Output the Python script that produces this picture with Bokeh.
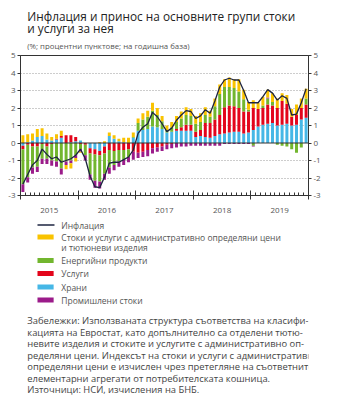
import numpy as np
from bokeh.plotting import figure
from bokeh.models import Range1d, FixedTicker, LinearAxis, Span, Grid
from bokeh.layouts import column
from bokeh.embed import file_html
from bokeh.resources import INLINE
from bokeh.core.properties import value

FONT = "Open Sans"

# ---------------- data (monthly, Jan 2015 - Dec 2019) ----------------
years = ["2015", "2016", "2017", "2018", "2019"]

food = [-0.15, 0.05, 0.15, 0.35, 0.4, 0.2, 0.15, 0.2, 0.3, 0.0, 0.05, 0.1,
        0.15, 0.0, -0.3, -0.35, -0.45, -0.2, 0.4, 0.25, 0.1, 0.05, 0.0, 0.3,
        0.7, 0.75, 0.8, 0.95, 0.9, 0.8, 0.6, 0.65, 0.7, 0.7, 0.7, 0.7,
        0.35, 0.4, 0.35, 0.3, 0.4, 0.5, 0.55, 0.6, 0.65, 0.65, 0.55, 0.6,
        0.75, 0.95, 1.05, 1.1, 1.15, 1.0, 1.05, 1.1, 1.0, 1.05, 1.35, 1.45]

services = [-0.2, -0.1, -0.2, -0.2, -0.05, -0.2, -0.05, 0.05, 0.1, 0.45, 0.4, 0.25,
            -0.05, -0.1, -0.3, -0.3, -0.25, -0.4, -0.4, -0.45, -0.4, -0.4, -0.35, -0.5,
            -0.55, -0.5, -0.4, -0.3, -0.25, -0.2, -0.1, -0.05, 0.1, 0.2, 0.35, 0.35,
            0.3, 0.35, 0.8, 0.85, 0.95, 1.1, 1.5, 1.55, 1.45, 1.35, 1.25, 1.2,
            1.25, 1.0, 0.95, 1.1, 1.0, 1.0, 1.35, 1.15, 0.5, 0.55, 0.65, 0.75]

energy = [-2.0, -1.85, -1.2, -1.15, -0.85, -0.7, -0.95, -1.05, -1.45, -1.05, -1.0, -0.7,
          -0.3, -0.6, -1.2, -1.5, -1.5, -1.15, -1.0, -0.8, -0.65, -0.55, -0.45, 0.05,
          0.45, 0.6, 0.7, 0.9, 0.7, 0.45, 0.15, 0.25, 0.4, 0.5, 0.55, 0.5,
          0.45, 0.45, 0.45, 0.35, 0.75, 1.2, 1.15, 1.05, 1.05, 0.95, 0.7, 0.1,
          -0.15, 0.0, 0.15, 0.35, 0.2, -0.1, -0.15, -0.2, -0.35, -0.55, -0.25, 0.35]

industrial = [-0.45, -0.3, -0.35, -0.3, -0.3, -0.3, -0.3, -0.3, -0.35, -0.2, -0.15, -0.15,
              -0.15, -0.3, -0.3, -0.4, -0.4, -0.35, -0.35, -0.3, -0.3, -0.3, -0.3, -0.45,
              -0.3, -0.3, -0.35, -0.3, -0.25, -0.25, -0.25, -0.25, -0.25, -0.2, -0.2, -0.15,
              -0.15, -0.15, -0.15, -0.15, -0.15, -0.15, -0.05, -0.05, -0.05, -0.05, -0.05, -0.05,
              -0.05, 0.0, 0.0, 0.05, 0.0, 0.0, 0.0, 0.0, 0.0, 0.0, 0.0, 0.0]

administered = [0.45, 0.45, 0.4, 0.45, 0.45, 0.35, 0.2, 0.25, 0.3, -0.25, -0.3, -0.2,
                -0.05, 0.0, 0.0, 0.0, 0.05, 0.1, 0.2, 0.2, 0.15, 0.25, 0.3, 0.25,
                0.25, 0.35, 0.35, 0.45, 0.4, 0.3, 0.25, 0.3, 0.35, 0.4, 0.45, 0.4,
                0.45, 0.5, 0.45, 0.35, 0.45, 0.55, 0.45, 0.55, 0.5, 0.7, 0.55, 0.45,
                0.45, 0.35, 0.5, 0.45, 0.5, 0.55, 0.45, 0.5, 0.45, 0.6, 0.55, 0.55]

inflation = [-2.35, -1.8, -1.25, -1.0, -0.35, -0.65, -0.9, -0.8, -1.1, -1.0, -0.9, -0.7,
             -0.35, -0.9, -1.9, -2.5, -2.55, -1.95, -1.15, -1.1, -1.1, -0.95, -0.8, -0.4,
             0.55, 0.9, 1.1, 1.75, 1.5, 1.1, 0.65, 0.85, 1.3, 1.6, 1.85, 1.8,
             1.4, 1.55, 1.9, 1.7, 2.4, 3.2, 3.6, 3.7, 3.6, 3.6, 3.0, 2.3,
             2.3, 2.3, 2.65, 3.05, 2.85, 2.45, 2.7, 2.55, 1.6, 1.65, 2.3, 3.1]

legend_labels = ["Инфлация",
                 "Стоки и услуги с административно определяни цени",
                 "и тютюневи изделия",
                 "Енергийни продукти",
                 "Услуги",
                 "Храни",
                 "Промишлени  стоки"]

title_lines = ["Инфлация и принос на основните групи стоки",
               "и услуги за нея"]
subtitle = "(%; процентни пунктове; на годишна база)"

note_lines = ["Забележки: Използваната структура съответства на класифи-",
              "кацията на Евростат, като допълнително са отделени тютю-",
              "невите изделия и стоките и услугите с административно оп-",
              "ределяни цени. Индексът на стоки и услуги с административно",
              "определяни цени е изчислен чрез претегляне на съответните",
              "елементарни агрегати от потребителската кошница.",
              "Източници: НСИ, изчисления на БНБ."]

C_Y = "#f9c300"
C_G = "#72b62e"
C_R = "#e3051b"
C_B = "#46b7e6"
C_P = "#9b1b8a"
C_L = "#1d2440"
AX = "#333333"
TXT = "#555555"

# ---------------- chart ----------------
n = len(inflation)
xs = np.arange(n) + 0.5

p = figure(width=339, height=165, x_range=Range1d(0, n), y_range=Range1d(-3, 5),
           x_axis_type=None, y_axis_type=None, output_backend="svg",
           toolbar_location=None, min_border_left=20, min_border_right=31,
           min_border_top=5, min_border_bottom=18)
p.outline_line_color = AX
p.outline_line_width = 1
p.background_fill_color = "white"
p.border_fill_color = "white"

p.add_layout(Grid(dimension=1, ticker=FixedTicker(ticks=[-2, -1, 1, 2, 3, 4]),
                  grid_line_color="#9a9a9a", grid_line_dash="1 2", grid_line_width=1))

stack = [(food, C_B), (services, C_R), (energy, C_G), (industrial, C_P), (administered, C_Y)]
pos_base = np.zeros(n)
neg_base = np.zeros(n)
for vals, col in stack:
    v = np.array(vals, dtype=float)
    bottom = np.where(v >= 0, pos_base, neg_base)
    top = bottom + v
    pos_base = np.where(v >= 0, top, pos_base)
    neg_base = np.where(v < 0, top, neg_base)
    p.vbar(x=xs, bottom=bottom, top=top, width=0.62, fill_color=col, line_color=None)

p.add_layout(Span(location=0, dimension="width", line_color=AX, line_width=1))
p.line(xs, inflation, line_color=C_L, line_width=1.3)

yt = list(range(-3, 6))
yover = {t: str(t) for t in yt}
for side in ("left", "right"):
    ax = LinearAxis(ticker=FixedTicker(ticks=yt), major_label_overrides=yover,
                    major_tick_in=0, major_tick_out=3, minor_tick_line_color=None,
                    axis_line_color=AX, major_tick_line_color=AX,
                    major_label_text_font=FONT, major_label_text_font_size="8px",
                    major_label_text_color=TXT, major_label_standoff=2)
    p.add_layout(ax, side)

year_bounds = [12 * i for i in range(len(years) + 1)]
xaxis1 = LinearAxis(ticker=FixedTicker(ticks=year_bounds, minor_ticks=list(range(n + 1))),
                    major_tick_in=5, major_tick_out=4, minor_tick_in=3, minor_tick_out=0,
                    axis_line_color=AX, major_tick_line_color=AX, minor_tick_line_color=AX,
                    major_label_text_font_size="0px", major_label_standoff=0,
                    major_label_overrides={b: "" for b in year_bounds})
p.add_layout(xaxis1, "below")
year_mid = [12 * i + 6 for i in range(len(years))]
xaxis2 = LinearAxis(ticker=FixedTicker(ticks=year_mid),
                    major_label_overrides={m: y for m, y in zip(year_mid, years)},
                    axis_line_color=None, major_tick_line_color=None, minor_tick_line_color=None,
                    major_label_text_font=FONT, major_label_text_font_size="8px",
                    major_label_text_color=TXT, major_label_standoff=2)
p.add_layout(xaxis2, "below")

# ---------------- title ----------------
f1 = figure(width=339, height=50, x_range=Range1d(0, 339), y_range=Range1d(50, 0),
            x_axis_type=None, y_axis_type=None, output_backend="svg",
            toolbar_location=None, min_border=0)
f1.outline_line_color = None
f1.text(x=[8, 8], y=[15, 27.5], text=title_lines, text_font=value(FONT),
        text_font_size=value("11.8px"), text_color="#222222", text_baseline="alphabetic")
f1.text(x=[8], y=[45], text=[subtitle], text_font=value(FONT),
        text_font_size=value("7.8px"), text_color=TXT, text_baseline="alphabetic")

# ---------------- legend + notes ----------------
f3 = figure(width=339, height=197, x_range=Range1d(0, 339), y_range=Range1d(412, 215),
            x_axis_type=None, y_axis_type=None, output_backend="svg",
            toolbar_location=None, min_border=0)
f3.outline_line_color = None
f3.line(x=[20, 40], y=[224.5, 224.5], line_color=C_L, line_width=1.5)
sw_y = [236.5, 260, 273, 286.5, 299.5]
sw_c = [C_Y, C_G, C_R, C_B, C_P]
f3.quad(left=[20] * 5, right=[39] * 5, top=[y - 2.6 for y in sw_y],
        bottom=[y + 2.6 for y in sw_y], fill_color=sw_c, line_color=None)
f3.text(x=[48] * 7, y=[224.5, 236.5, 246.5, 260, 273, 286.5, 299.5], text=legend_labels,
        text_font=value(FONT), text_font_size=value("8.5px"), text_color=TXT,
        text_baseline="middle")
f3.text(x=[8] * 7, y=[320, 331.5, 343, 354.5, 366, 377.5, 389], text=note_lines,
        text_font=value(FONT), text_font_size=value("9.4px"), text_color="#444444",
        text_baseline="middle")

layout = column(f1, p, f3, spacing=0)
open("out.html", "w").write(file_html(layout, INLINE))
